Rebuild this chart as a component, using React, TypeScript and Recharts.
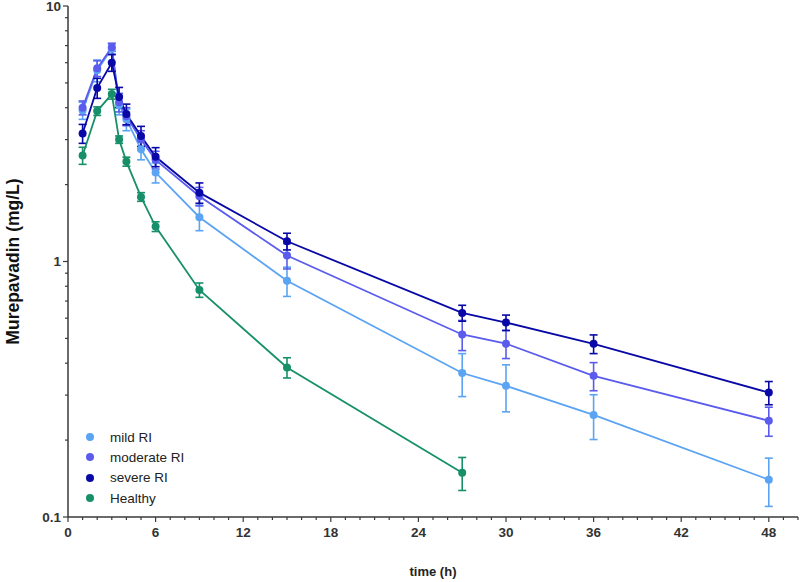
import { LineChart, Line, XAxis, YAxis, ErrorBar, Legend } from 'recharts';

// sampling times (h)
const times = [1, 2, 3, 3.5, 4, 5, 6, 9, 15, 27, 30, 36, 48];
const healthyTimes = [1, 2, 3, 3.5, 4, 5, 6, 9, 15, 27];

// mean concentration (mg/L) and SD per group
const mild = [3.9, 5.6, 6.8, 4.1, 3.6, 2.75, 2.23, 1.49, 0.84, 0.366, 0.326, 0.251, 0.14];
const mildSd = [0.3, 0.55, 0.3, 0.35, 0.35, 0.25, 0.2, 0.17, 0.11, 0.07, 0.068, 0.05, 0.03];
const moderate = [4.0, 5.7, 6.9, 4.2, 3.7, 3.0, 2.5, 1.8, 1.055, 0.518, 0.477, 0.357, 0.238];
const moderateSd = [0.25, 0.4, 0.25, 0.35, 0.3, 0.25, 0.2, 0.15, 0.12, 0.07, 0.06, 0.045, 0.031];
const severe = [3.17, 4.78, 6.0, 4.4, 3.78, 3.1, 2.57, 1.86, 1.2, 0.629, 0.577, 0.476, 0.307];
const severeSd = [0.27, 0.43, 0.45, 0.4, 0.35, 0.28, 0.22, 0.17, 0.09, 0.045, 0.04, 0.04, 0.032];
const healthy = [2.6, 3.88, 4.52, 3.0, 2.46, 1.79, 1.37, 0.774, 0.385, 0.149];
const healthySd = [0.2, 0.15, 0.2, 0.1, 0.1, 0.07, 0.06, 0.05, 0.035, 0.022];

const xLabels = [0, 6, 12, 18, 24, 30, 36, 42, 48];
const xTicks = Array.from({ length: 51 }, (_, i) => i);
const yLabels = [0.1, 1, 10];
const yTicks = [0.1, 0.2, 0.3, 0.4, 0.5, 0.6, 0.7, 0.8, 0.9, 1, 2, 3, 4, 5, 6, 7, 8, 9, 10];

const groups = [
  { name: 'mild RI', color: '#5ba4f3', rows: times.map((t, i) => ({ t, v: mild[i], sd: mildSd[i] })) },
  { name: 'moderate RI', color: '#5b5cee', rows: times.map((t, i) => ({ t, v: moderate[i], sd: moderateSd[i] })) },
  { name: 'severe RI', color: '#0808a6', rows: times.map((t, i) => ({ t, v: severe[i], sd: severeSd[i] })) },
  { name: 'Healthy', color: '#17906a', rows: healthyTimes.map((t, i) => ({ t, v: healthy[i], sd: healthySd[i] })) }
];

const AXIS = '#3a3a3a';
const FONT = '"Liberation Sans", Arial, sans-serif';

const XTick = (props: any) => {
  const { x, y, payload } = props;
  const major = xLabels.includes(payload.value);
  return (
    <g>
      <line x1={x} y1={y} x2={x} y2={y + (major ? 5 : 3)} stroke={AXIS} strokeWidth={1.2} />
      {major && (
        <text x={x} y={y + 20} textAnchor="middle" fontSize={13.5} fontWeight="bold" fill="#333" fontFamily={FONT}>
          {payload.value}
        </text>
      )}
    </g>
  );
};

const YTick = (props: any) => {
  const { x, y, payload } = props;
  const major = yLabels.includes(payload.value);
  return (
    <g>
      <line x1={x - (major ? 5 : 3)} y1={y} x2={x} y2={y} stroke={AXIS} strokeWidth={1.2} />
      {major && (
        <text x={x - 7} y={y + 4.5} textAnchor="end" fontSize={13.5} fontWeight="bold" fill="#333" fontFamily={FONT}>
          {payload.value}
        </text>
      )}
    </g>
  );
};

const renderLegend = () => (
  <div style={{ fontFamily: FONT, fontSize: 13.5, color: '#222' }}>
    {groups.map((g) => (
      <div key={g.name} style={{ height: 20.3, display: 'flex', alignItems: 'center' }}>
        <svg width={16} height={10} style={{ marginRight: 12 }}>
          <circle cx={8} cy={5} r={4} fill={g.color} />
        </svg>
        <span>{g.name}</span>
      </div>
    ))}
  </div>
);

export default function App() {
  return (
    <div style={{ position: 'absolute', left: 0, top: 0, width: 800, height: 582, background: '#fff' }}>
      <LineChart width={800} height={582} margin={{ top: 6, right: 2, bottom: 0, left: 0 }}>
        <XAxis
          dataKey="t"
          type="number"
          domain={[0, 50]}
          ticks={xTicks}
          interval={0}
          tickLine={false}
          tickSize={0}
          tickMargin={0}
          tick={<XTick />}
          axisLine={{ stroke: AXIS, strokeWidth: 1.5 }}
          height={65}
          allowDuplicatedCategory={false}
          label={{ value: 'time (h)', position: 'insideBottom', offset: 6, fontSize: 13, fontWeight: 'bold', fill: '#222', fontFamily: FONT }}
        />
        <YAxis
          type="number"
          scale="log"
          domain={[0.1, 10]}
          allowDataOverflow
          ticks={yTicks}
          interval={0}
          tickLine={false}
          tickSize={0}
          tickMargin={0}
          tick={<YTick />}
          axisLine={{ stroke: AXIS, strokeWidth: 1.5 }}
          width={68}
          label={{
            content: (p: any) => {
              const vb = p.viewBox || { y: 6, height: 511 };
              const cy = vb.y + vb.height / 2;
              return (
                <text
                  x={13}
                  y={cy}
                  transform={`rotate(-90, 13, ${cy})`}
                  textAnchor="middle"
                  dominantBaseline="central"
                  fontSize={17.5}
                  fontWeight="bold"
                  fill="#111"
                  fontFamily={FONT}
                >
                  Murepavadin (mg/L)
                </text>
              );
            }
          }}
        />
        <Legend
          content={renderLegend}
          layout="vertical"
          align="center"
          verticalAlign="middle"
          wrapperStyle={{ left: 82, top: 427, width: 150 }}
        />
        {groups.map((g) => (
          <Line
            key={g.name}
            data={g.rows}
            dataKey="v"
            name={g.name}
            stroke={g.color}
            strokeWidth={1.8}
            dot={{ r: 4, fill: g.color, stroke: g.color, strokeWidth: 0 }}
            activeDot={false}
            isAnimationActive={false}
          >
            <ErrorBar dataKey="sd" direction="y" width={4} stroke={g.color} strokeWidth={1.6} />
          </Line>
        ))}
      </LineChart>
    </div>
  );
}
